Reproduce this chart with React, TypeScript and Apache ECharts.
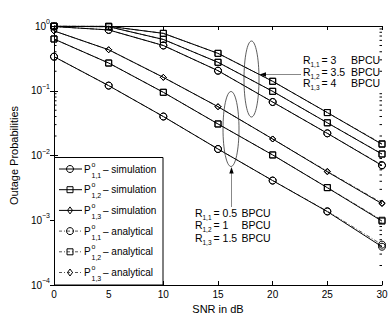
import React, { useEffect, useRef } from "react";
import * as echarts from "echarts";

// ---- data ----
const snrDb = [0, 5, 10, 15, 20, 25, 30];

// low-rate group: R = 0.5, 1, 1.5 BPCU
const simP11Low = [0.336, 0.12, 0.04, 0.0126, 0.0041, 0.00136, 0.00039];
const simP12Low = [0.63, 0.268, 0.0946, 0.0307, 0.0102, 0.00318, 0.00097];
const simP13Low = [0.84, 0.43, 0.161, 0.0567, 0.018, 0.0056, 0.0018];
const anaP11Low = [0.336, 0.12, 0.04, 0.0126, 0.0041, 0.00138, 0.00042];
const anaP12Low = [0.63, 0.268, 0.0946, 0.0307, 0.0102, 0.0032, 0.001];
const anaP13Low = [0.84, 0.43, 0.161, 0.0567, 0.018, 0.0057, 0.00185];

// high-rate group: R = 3, 3.5, 4 BPCU
const simP11High = [0.98, 0.87, 0.5, 0.204, 0.067, 0.022, 0.007];
const simP12High = [0.99, 0.975, 0.62, 0.275, 0.098, 0.032, 0.0105];
const simP13High = [0.995, 0.99, 0.77, 0.378, 0.14, 0.046, 0.0149];
const anaP11High = [0.98, 0.87, 0.5, 0.204, 0.067, 0.022, 0.0071];
const anaP12High = [0.99, 0.975, 0.62, 0.275, 0.098, 0.032, 0.0106];
const anaP13High = [0.995, 0.99, 0.77, 0.378, 0.14, 0.046, 0.0152];

const xTickInterval = 5;
const yDecadeMin = 1e-4;
const yDecadeMax = 1;
const minorTickValues = [
  2e-4, 3e-4, 4e-4, 5e-4, 6e-4, 7e-4, 8e-4, 9e-4,
  2e-3, 3e-3, 4e-3, 5e-3, 6e-3, 7e-3, 8e-3, 9e-3,
  2e-2, 3e-2, 4e-2, 5e-2, 6e-2, 7e-2, 8e-2, 9e-2,
  2e-1, 3e-1, 4e-1, 5e-1, 6e-1, 7e-1, 8e-1, 9e-1,
];

const legendLabels = [
  { sub: "1,1", kind: "simulation", symbol: "circle" },
  { sub: "1,2", kind: "simulation", symbol: "rect" },
  { sub: "1,3", kind: "simulation", symbol: "diamond" },
  { sub: "1,1", kind: "analytical", symbol: "circle" },
  { sub: "1,2", kind: "analytical", symbol: "rect" },
  { sub: "1,3", kind: "analytical", symbol: "diamond" },
];
const upperRates = ["3", "3.5", "4"];
const lowerRates = ["0.5", "1", "1.5"];

const FONT = '"Liberation Sans", Arial, Helvetica, sans-serif';

function mkSeries(name: string, vals: number[], symbol: string, size: number, analytical: boolean) {
  return {
    type: "line",
    name,
    xAxisIndex: 0,
    yAxisIndex: 0,
    data: snrDb.map((x, i) => [x, vals[i]]),
    symbol,
    symbolSize: size,
    showSymbol: true,
    z: analytical ? 1 : 2,
    silent: true,
    lineStyle: {
      color: analytical ? "#555" : "#000",
      width: 1,
      type: analytical ? [4, 2, 1, 2] : "solid",
    },
    itemStyle: { color: "rgba(0,0,0,0)", borderColor: "#000", borderWidth: 1 },
    emphasis: { disabled: true },
  };
}

function txt(x: number, y: number, text: string, size: number, extra: any = {}) {
  return {
    type: "text",
    x,
    y,
    z: 100,
    silent: true,
    style: {
      text,
      fill: "#000",
      fontSize: size,
      fontFamily: FONT,
      align: "left",
      verticalAlign: "middle",
      ...extra,
    },
  };
}

function legendMarker(symbol: string, cx: number, cy: number) {
  const st = { fill: "rgba(0,0,0,0)", stroke: "#000", lineWidth: 1 };
  if (symbol === "circle") return { type: "circle", z: 101, shape: { cx, cy, r: 3.5 }, style: st };
  if (symbol === "rect") return { type: "rect", z: 101, shape: { x: cx - 3, y: cy - 3, width: 6, height: 6 }, style: st };
  return {
    type: "polygon",
    z: 101,
    shape: { points: [[cx, cy - 3.5], [cx + 2.5, cy], [cx, cy + 3.5], [cx - 2.5, cy]] },
    style: st,
  };
}

function buildGraphic() {
  const g: any[] = [];
  // legend box
  g.push({
    type: "rect",
    z: 99,
    shape: { x: 54.5, y: 157.5, width: 108.5, height: 127.5 },
    style: { fill: "#fff", stroke: "#000", lineWidth: 1 },
  });
  const rowY0 = 169;
  const rowStep = 20.7;
  legendLabels.forEach((it, i) => {
    const y = rowY0 + i * rowStep;
    const analytical = it.kind === "analytical";
    g.push({
      type: "line",
      z: 100,
      shape: { x1: 59, y1: y, x2: 82, y2: y },
      style: analytical
        ? { stroke: "#555", lineWidth: 1, lineDash: [3, 2, 1, 2] }
        : { stroke: "#000", lineWidth: 1 },
    });
    g.push(legendMarker(it.symbol, 70, y));
    g.push(txt(84, y, "P", 10));
    g.push(txt(91.5, y - 5, "o", 7));
    g.push(txt(91.5, y + 6, it.sub, 7));
    g.push(txt(103, y, "– " + it.kind, 10));
  });

  // ellipses
  g.push({
    type: "ellipse",
    z: 50,
    shape: { cx: 251.5, cy: 79, rx: 7.5, ry: 38 },
    style: { fill: "rgba(0,0,0,0)", stroke: "#333", lineWidth: 0.8 },
  });
  g.push({
    type: "ellipse",
    z: 50,
    shape: { cx: 231, cy: 129, rx: 8, ry: 37.5 },
    style: { fill: "rgba(0,0,0,0)", stroke: "#333", lineWidth: 0.8 },
  });
  // upper arrow
  g.push({ type: "line", z: 50, shape: { x1: 301, y1: 74.5, x2: 263, y2: 74.5 }, style: { stroke: "#888", lineWidth: 1 } });
  g.push({ type: "polygon", z: 51, shape: { points: [[259.5, 74.5], [266, 72.3], [266, 76.7]] }, style: { fill: "#000" } });
  // lower arrow
  g.push({ type: "line", z: 50, shape: { x1: 231.5, y1: 207, x2: 231.5, y2: 171 }, style: { stroke: "#888", lineWidth: 1 } });
  g.push({ type: "polygon", z: 51, shape: { points: [[231.5, 167], [229.3, 173.5], [233.7, 173.5]] }, style: { fill: "#000" } });

  // upper annotation block
  const upY = [60, 71.7, 83.4];
  upperRates.forEach((r, i) => {
    const y = upY[i];
    g.push(txt(303, y, "R", 10.5));
    g.push(txt(310.5, y + 4.5, "1," + (i + 1), 6.5));
    g.push(txt(321.5, y, "= " + r, 10.5));
    g.push(txt(351, y, "BPCU", 10.5));
  });
  // lower annotation block
  const loY = [212.5, 225, 237.5];
  lowerRates.forEach((r, i) => {
    const y = loY[i];
    g.push(txt(195, y, "R", 10.5));
    g.push(txt(202.5, y + 4.5, "1," + (i + 1), 6.5));
    g.push(txt(213.5, y, "= " + r, 10.5));
    g.push(txt(241.5, y, "BPCU", 10.5));
  });
  return g;
}

function supLabel(value: number) {
  const e = Math.round(Math.log10(value));
  const s = e === 0 ? "0" : "−" + String(-e);
  return "{b|10}{sup|" + s + "}";
}

export default function App() {
  const ref = useRef<HTMLDivElement>(null);
  useEffect(() => {
    document.body.style.margin = "0";
    if (!ref.current) return;
    const chart = echarts.init(ref.current, undefined, { renderer: "svg" });
    const axisCommon = {
      axisLine: { show: true, lineStyle: { color: "#000", width: 1 } },
      axisTick: { show: true, inside: true, length: 4, lineStyle: { color: "#000", width: 1 } },
      splitLine: { show: false },
    };
    const option: any = {
      animation: false,
      backgroundColor: "#fff",
      textStyle: { fontFamily: FONT },
      grid: { left: 54, right: 8, top: 26, bottom: 31, containLabel: false, outerBoundsMode: "none" },
      xAxis: [
        {
          type: "value",
          position: "bottom",
          min: 0,
          max: 30,
          interval: xTickInterval,
          ...axisCommon,
          axisLabel: { show: true, color: "#000", fontSize: 10, fontFamily: FONT, margin: 4 },
          name: "SNR in dB",
          nameLocation: "middle",
          nameGap: 15,
          nameTextStyle: { color: "#000", fontSize: 11, fontFamily: FONT },
        },
        {
          type: "value",
          position: "top",
          min: 0,
          max: 30,
          interval: xTickInterval,
          ...axisCommon,
          axisLabel: { show: false },
        },
      ],
      yAxis: [
        {
          type: "log",
          logBase: 10,
          position: "left",
          min: yDecadeMin,
          max: yDecadeMax,
          ...axisCommon,
          axisLabel: {
            show: true,
            margin: 4,
            color: "#000",
            formatter: (v: number) => supLabel(v),
            rich: {
              b: { fontSize: 10, fontFamily: FONT, color: "#000", lineHeight: 16, verticalAlign: "middle" },
              sup: { fontSize: 7, fontFamily: FONT, color: "#000", lineHeight: 8, verticalAlign: "top" },
            },
          },
          name: "Outage Probabilities",
          nameLocation: "middle",
          nameGap: 25,
          nameTextStyle: { color: "#000", fontSize: 11, fontFamily: FONT },
        },
        {
          type: "log",
          logBase: 10,
          position: "right",
          min: yDecadeMin,
          max: yDecadeMax,
          ...axisCommon,
          axisLabel: { show: false },
        },
      ],
      series: [
        mkSeries("P11 analytical low", anaP11Low, "circle", 7, true),
        mkSeries("P12 analytical low", anaP12Low, "rect", 6, true),
        mkSeries("P13 analytical low", anaP13Low, "diamond", 6, true),
        mkSeries("P11 analytical high", anaP11High, "circle", 7, true),
        mkSeries("P12 analytical high", anaP12High, "rect", 6, true),
        mkSeries("P13 analytical high", anaP13High, "rect", 6, true),
        mkSeries("P11 simulation low", simP11Low, "circle", 7, false),
        mkSeries("P12 simulation low", simP12Low, "rect", 6, false),
        mkSeries("P13 simulation low", simP13Low, "diamond", 6, false),
        mkSeries("P11 simulation high", simP11High, "circle", 7, false),
        mkSeries("P12 simulation high", simP12High, "rect", 6, false),
        mkSeries("P13 simulation high", simP13High, "rect", 6, false),
        {
          type: "custom",
          name: "minor ticks",
          xAxisIndex: 0,
          yAxisIndex: 0,
          silent: true,
          z: 5,
          data: minorTickValues.map((v) => [0, v]),
          renderItem: (_p: any, api: any) => {
            const v = api.value(1);
            const l = api.coord([0, v]);
            const r = api.coord([30, v]);
            return {
              type: "group",
              children: [
                { type: "line", shape: { x1: l[0], y1: l[1], x2: l[0] + 2.5, y2: l[1] }, style: { stroke: "#000", lineWidth: 1 } },
                { type: "line", shape: { x1: r[0] - 2.5, y1: r[1], x2: r[0], y2: r[1] }, style: { stroke: "#000", lineWidth: 1 } },
              ],
            };
          },
        },
      ],
      graphic: buildGraphic(),
    };
    chart.setOption(option);
    return () => chart.dispose();
  }, []);
  return <div ref={ref} style={{ width: 390, height: 316 }} />;
}
